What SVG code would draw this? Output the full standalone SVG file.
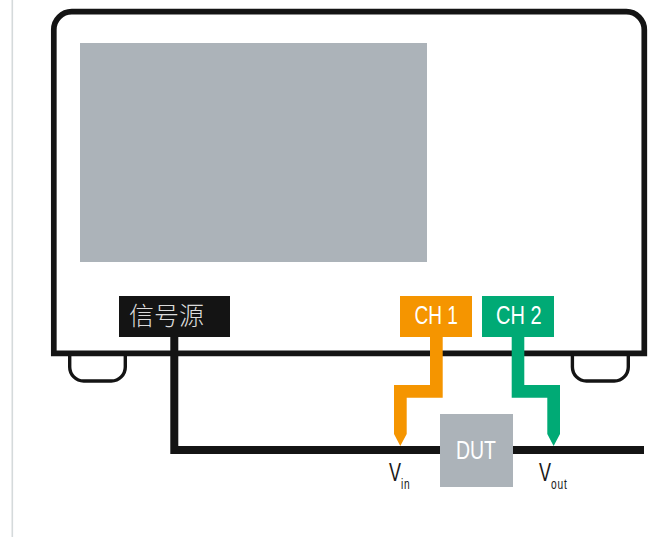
<svg xmlns="http://www.w3.org/2000/svg" width="672" height="537" viewBox="0 0 672 537">
<style>
.lab{font-family:"Liberation Sans",Arial,sans-serif;text-anchor:start}
.w{fill:#fff;font-size:26.500px}
.k{fill:#1a1a1a;font-size:26.500px}
.s{font-size:15px;letter-spacing:1.200px}
.ln{fill:none;stroke:#141414}
</style>
<rect width="672" height="537" fill="#fff"/>
<rect x="11.500" y="0" width="1.600" height="537" fill="#d5dadb"/>
<g id="instrument">
<path class="ln" stroke-width="3.400" d="M69.700 354V367A14 14 0 0 0 83.700 381H111.300A14 14 0 0 0 125.300 367V354"/>
<path class="ln" stroke-width="3.400" d="M572.400 354V367A14 14 0 0 0 586.400 381H614.300A14 14 0 0 0 628.300 367V354"/>
<path class="ln" stroke-width="5.700" d="M53.800 353.300V29.700A18 18 0 0 1 71.800 11.700H626.300A18 18 0 0 1 644.300 29.700V353.300Z"/>
<rect id="screen" x="80" y="43" width="347" height="219" fill="#acb3b9"/>
</g>
<g id="connectors">
<path class="ln" stroke-width="8" d="M174.300 337V450H644"/>
<path fill="#f59500" d="M430 337H442.700V397.700H406.700V434L400.300 446L394 434V385H430Z"/>
<path fill="#00aa75" d="M511.700 337H524.300V385H560V434L553.600 446L547.300 434V397.700H511.700Z"/>
</g>
<g id="source">
<rect x="119" y="296" width="111" height="41" fill="#141414"/>
<text x="129" y="324.500" font-size="25" font-weight="300" fill="#dcdcdc" font-family="'Noto Sans CJK SC',sans-serif">信号源</text>
</g>
<g id="ch1">
<rect x="400" y="296" width="72" height="41" fill="#f59500"/>
<text class="lab w" x="414.500" y="324" textLength="43.500" lengthAdjust="spacingAndGlyphs">CH 1</text>
</g>
<g id="ch2">
<rect x="482" y="296" width="72" height="41" fill="#00aa75"/>
<text class="lab w" x="496" y="324" textLength="45.500" lengthAdjust="spacingAndGlyphs">CH 2</text>
</g>
<g id="dut">
<rect x="440" y="414" width="73" height="73" fill="#acb3b9"/>
<text class="lab w" x="456" y="459" textLength="40" lengthAdjust="spacingAndGlyphs">DUT</text>
</g>
<g id="vin">
<text class="lab k" transform="translate(389 481) scale(.68 1)">V<tspan class="s" dy="7.500">in</tspan></text>
</g>
<g id="vout">
<text class="lab k" transform="translate(539 481) scale(.68 1)">V<tspan class="s" dy="7.500">out</tspan></text>
</g>
</svg>
